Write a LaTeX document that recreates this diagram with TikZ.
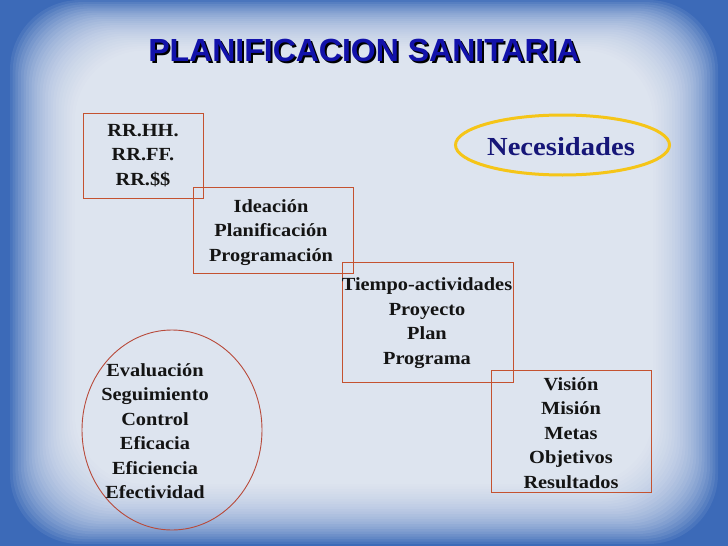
\documentclass[tikz,border=0pt]{standalone}
\usepackage{fontspec}
\setmainfont[FakeStretch=1.1]{Liberation Serif}
\newfontfamily\titlefont{Liberation Sans}
\usetikzlibrary{shapes.geometric}
\definecolor{bgblue}{RGB}{60,106,184}
\definecolor{boxred}{RGB}{196,82,48}
\definecolor{circred}{RGB}{184,74,58}
\definecolor{gold}{RGB}{245,197,24}
\definecolor{titleblue}{RGB}{18,18,170}
\definecolor{navy}{RGB}{22,22,120}
\definecolor{ink}{RGB}{20,20,20}
\tikzset{
  bodytext/.style={text=ink, align=center, inner sep=0pt,
    font=\bfseries\fontsize{18.5}{24.5}\selectfont},
  stagebox/.style={draw=boxred, line width=1pt, rectangle, inner sep=0pt},
  titletext/.style={inner sep=0pt, font=\titlefont\bfseries\fontsize{32}{36}\selectfont},
}
\begin{document}
\begin{tikzpicture}[x=1pt,y=-1pt]
\useasboundingbox (0,0) rectangle (728,546);
% background vignette
\fill[bgblue] (0,0) rectangle (728,546);
\foreach \i in {0,...,24} {
  \pgfmathsetmacro\xa{10+2.7*\i}
  \pgfmathsetmacro\ya{0+2.1*\i}
  \pgfmathsetmacro\xb{718-2.7*\i}
  \pgfmathsetmacro\yb{544-2.5*\i}
  \fill[white, opacity=0.075, rounded corners=70pt] (\xa,\ya) rectangle (\xb,\yb);
}
% title
\node[titletext, text=black] (titleshadow) at (366,52) {PLANIFICACION SANITARIA};
\node[titletext, text=titleblue] (title) at (364,50) {PLANIFICACION SANITARIA};
% stage boxes
\node[stagebox, minimum width=120pt, minimum height=85pt] (b1) at (143,155.5) {};
\node[bodytext] (t1) at (143,155.5) {RR.HH.\\RR.FF.\\RR.\$\$};
\node[stagebox, minimum width=160pt, minimum height=86pt] (b2) at (273,230) {};
\node[bodytext] (t2) at (271,232.5) {Ideación\\Planificación\\Programación};
\node[stagebox, minimum width=171pt, minimum height=120pt] (b3) at (427.5,322) {};
\node[bodytext] (t3) at (427,323) {Tiempo-actividades\\Proyecto\\Plan\\Programa};
\node[stagebox, minimum width=160pt, minimum height=122pt] (b4) at (571,431) {};
\node[bodytext] (t4) at (571,433) {Visión\\Misión\\Metas\\Objetivos\\Resultados};
% necesidades
\node[draw=gold, line width=3pt, ellipse, minimum width=214pt, minimum height=60pt, inner sep=0pt] (nec) at (562.5,145) {};
\node[text=navy, inner sep=0pt, font=\bfseries\fontsize{26}{30}\selectfont] (nectext) at (561,147) {Necesidades};
% evaluation circle
\node[draw=circred, line width=0.9pt, ellipse, minimum width=180pt, minimum height=200pt, inner sep=0pt] (evalc) at (172,430) {};
\node[bodytext] (t5) at (155,431) {Evaluación\\Seguimiento\\Control\\Eficacia\\Eficiencia\\Efectividad};
\end{tikzpicture}
\end{document}
